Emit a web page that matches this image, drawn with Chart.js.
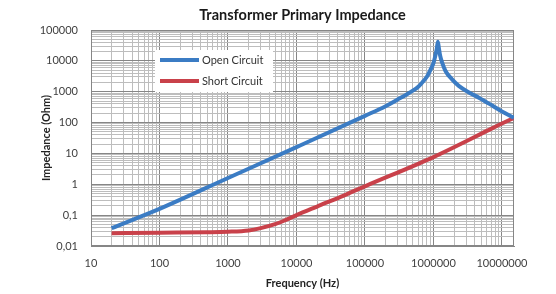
<!DOCTYPE html>
<html>
<head>
<meta charset="utf-8">
<script src="https://cdn.jsdelivr.net/npm/chart.js@4/dist/chart.umd.min.js"></script>
<style>
  html, body { margin: 0; padding: 0; background: #fff; }
  canvas { display: block; }
</style>
</head>
<body>
<canvas id="impedance-chart" width="556" height="294"></canvas>
<script>
// Data
const openFreq = [20, 100, 1000, 10000, 100000, 200000, 300000, 400000, 500000, 600000, 700000, 760000, 830000, 900000, 1000000, 1060000, 1120000, 1160000, 1200000, 1250000, 1340000, 1500000, 1870000, 2340000, 3300000, 4600000, 7300000, 10000000, 15000000];
const openZ = [0.038, 0.16, 1.6, 16, 165, 340, 560, 800, 1080, 1450, 2100, 2600, 3500, 5000, 8500, 14000, 25000, 42000, 26000, 15000, 8700, 4700, 2500, 1550, 950, 640, 350, 230, 142];

const shortFreq = [20, 100, 500, 1000, 2000, 3000, 5000, 7000, 10000, 20000, 50000, 100000, 1000000, 6600000, 10000000, 15000000];
const shortZ = [0.026, 0.027, 0.028, 0.029, 0.032, 0.038, 0.052, 0.07, 0.1, 0.19, 0.44, 0.86, 7.6, 59, 93, 142];

const seriesLabels = ["Open Circuit", "Short Circuit"];
const seriesColors = ["#3b7cc4", "#c9414a"];

const xTickLabels = ["10", "100", "1000", "10000", "100000", "1000000", "10000000"];
const yTickLabels = ["0,01", "0,1", "1", "10", "100", "1000", "10000", "100000"];

const xMin = 10, xMax = 15000000;
const yMin = 0.01, yMax = 100000;

const toPoints = (xs, ys) => xs.map((x, i) => ({ x: x, y: ys[i] }));

function isPow10(v) {
  const l = Math.log10(v);
  return Math.abs(l - Math.round(l)) < 1e-9;
}

// every 1..9 x 10^n inside the range
function logTicks(min, max) {
  const out = [];
  for (let e = Math.floor(Math.log10(min)); e <= Math.ceil(Math.log10(max)); e++) {
    for (let k = 1; k <= 9; k++) {
      const v = parseFloat((k * Math.pow(10, e)).toPrecision(6));
      if (v >= min * 0.9999 && v <= max * 1.0001) out.push({ value: v });
    }
  }
  return out;
}

const majorGrid = "#868686";
const minorGrid = "#bdbdbd";

// white legend box drawn inside the plot, like the original
const insideLegend = {
  id: "insideLegend",
  afterDatasetsDraw(chart) {
    const { ctx, chartArea } = chart;
    const x = chartArea.left + 64;
    const y = chartArea.top + 20;
    ctx.save();
    ctx.fillStyle = "#ffffff";
    ctx.fillRect(x, y, 118, 42);
    ctx.font = "11px Lato";
    ctx.textBaseline = "middle";
    chart.data.datasets.forEach((ds, i) => {
      const ly = y + 10 + i * 21;
      ctx.strokeStyle = ds.borderColor;
      ctx.lineWidth = 4;
      ctx.beginPath();
      ctx.moveTo(x + 5, ly);
      ctx.lineTo(x + 44, ly);
      ctx.stroke();
      ctx.fillStyle = "#333333";
      ctx.fillText(ds.label, x + 47, ly);
    });
    ctx.restore();
  },
};

const plotFrame = {
  id: "plotFrame",
  beforeDatasetsDraw(chart) {
    const { ctx, chartArea } = chart;
    ctx.save();
    ctx.strokeStyle = majorGrid;
    ctx.lineWidth = 1;
    ctx.strokeRect(chartArea.left + 0.5, chartArea.top + 0.5, chartArea.width - 1, chartArea.height - 1);
    ctx.restore();
  },
};

new Chart(document.getElementById("impedance-chart").getContext("2d"), {
  type: "line",
  data: {
    datasets: [
      {
        label: seriesLabels[0],
        data: toPoints(openFreq, openZ),
        borderColor: seriesColors[0],
        backgroundColor: seriesColors[0],
        borderWidth: 4,
        pointRadius: 0,
        cubicInterpolationMode: "monotone",
      },
      {
        label: seriesLabels[1],
        data: toPoints(shortFreq, shortZ),
        borderColor: seriesColors[1],
        backgroundColor: seriesColors[1],
        borderWidth: 4,
        pointRadius: 0,
        cubicInterpolationMode: "monotone",
      },
    ],
  },
  options: {
    responsive: false,
    animation: false,
    layout: { padding: { left: 0, right: 42, top: 0, bottom: 0 } },
    plugins: {
      legend: { display: false },
      tooltip: { enabled: false },
      title: {
        display: true,
        text: "Transformer Primary Impedance",
        fullSize: false,
        color: "#1a1a1a",
        font: { family: "Lato", size: 14.5, weight: "bold", lineHeight: 1.2 },
        padding: { top: 7, bottom: 5.6 },
      },
    },
    scales: {
      x: {
        type: "logarithmic",
        min: xMin,
        max: xMax,
        afterBuildTicks: (scale) => { scale.ticks = logTicks(xMin, xMax); },
        afterFit: (scale) => { scale.height = 48; },
        grid: {
          drawTicks: false,
          color: (c) => (c.tick && isPow10(c.tick.value) ? majorGrid : minorGrid),
        },
        border: { color: majorGrid },
        ticks: {
          autoSkip: false,
          maxRotation: 0,
          padding: 11,
          color: "#404040",
          font: { family: "Lato", size: 11 },
          callback: (v) => (isPow10(v) ? xTickLabels[Math.round(Math.log10(v)) - 1] : ""),
        },
        title: {
          display: true,
          text: "Frequency (Hz)",
          color: "#222222",
          font: { family: "Lato", size: 11, weight: "bold", lineHeight: 1.2 },
          padding: { top: 0, bottom: 4.4 },
        },
      },
      y: {
        type: "logarithmic",
        min: yMin,
        max: yMax,
        afterBuildTicks: (scale) => { scale.ticks = logTicks(yMin, yMax); },
        afterFit: (scale) => { scale.width = 91; },
        grid: {
          drawTicks: false,
          color: (c) => (c.tick && isPow10(c.tick.value) ? majorGrid : minorGrid),
        },
        border: { color: majorGrid },
        ticks: {
          autoSkip: false,
          padding: 13,
          color: "#404040",
          font: { family: "Lato", size: 11 },
          callback: (v) => (isPow10(v) ? yTickLabels[Math.round(Math.log10(v)) + 2] : ""),
        },
        title: {
          display: true,
          text: "Impedance (Ohm)",
          color: "#222222",
          font: { family: "Lato", size: 11, weight: "bold", lineHeight: 1.2 },
          padding: { top: 40, bottom: 0 },
        },
      },
    },
  },
  plugins: [plotFrame, insideLegend],
});
</script>
</body>
</html>
